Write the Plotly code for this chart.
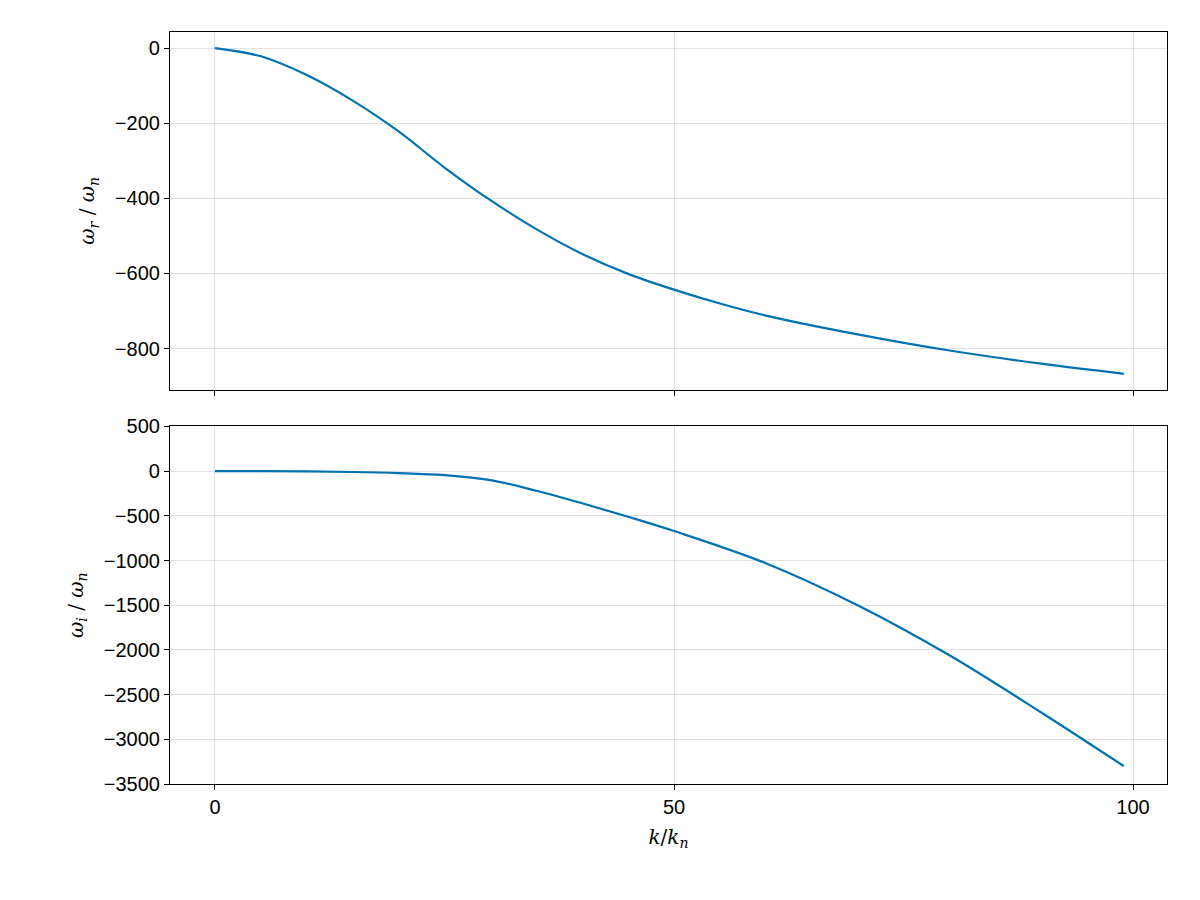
import plotly.graph_objects as go
from plotly.subplots import make_subplots

k = [0, 5, 10, 15, 20, 25, 30, 35, 40, 45, 50, 55, 60, 70, 80, 90, 99]
omega_r = [0, -22, -72, -140, -222, -318, -405, -482, -548, -601, -643, -680, -712, -762, -805, -840, -867]

k_i = [0, 5, 10, 15, 20, 25, 30, 35, 40, 45, 50, 60, 70, 80, 90, 99]
omega_i = [0, -1, -4, -10, -22, -45, -100, -220, -360, -510, -670, -1030, -1500, -2060, -2700, -3300]

blue = "#0072B2"
grid = "rgba(0,0,0,0.12)"

fig = make_subplots(rows=2, cols=1, shared_xaxes=True, vertical_spacing=0.049)

fig.add_trace(go.Scatter(x=k, y=omega_r, mode="lines", line=dict(color=blue, width=2.2, shape="spline"),
                         showlegend=False), row=1, col=1)
fig.add_trace(go.Scatter(x=k_i, y=omega_i, mode="lines", line=dict(color=blue, width=2.2, shape="spline"),
                         showlegend=False), row=2, col=1)

axis_style = dict(showgrid=True, gridcolor=grid, gridwidth=1, zeroline=False,
                  showline=True, linecolor="black", linewidth=1.2, mirror=True,
                  ticks="outside", ticklen=5, tickcolor="black",
                  tickfont=dict(size=20, color="black"))

fig.update_xaxes(range=[-4.9, 103.7], tickvals=[0, 50, 100], **axis_style)
fig.update_xaxes(showticklabels=False, row=1, col=1)
fig.update_xaxes(title=dict(text="<i>k</i>/<i>k<sub>n</sub></i>",
                            font=dict(size=20, family="DejaVu Serif", color="black"), standoff=12),
                 row=2, col=1)
fig.update_yaxes(range=[-909, 42.7], tickvals=[0, -200, -400, -600, -800],
                 ticktext=["0", "−200", "−400", "−600", "−800"],
                 title=dict(text="<i>ω<sub>r</sub></i> / <i>ω<sub>n</sub></i>",
                            font=dict(size=20, family="DejaVu Serif", color="black"), standoff=14),
                 row=1, col=1, **axis_style)
yi = [500, 0, -500, -1000, -1500, -2000, -2500, -3000, -3500]
fig.update_yaxes(range=[-3500, 500], tickvals=yi,
                 ticktext=[str(v).replace("-", "−") for v in yi],
                 title=dict(text="<i>ω<sub>i</sub></i> / <i>ω<sub>n</sub></i>",
                            font=dict(size=20, family="DejaVu Serif", color="black"), standoff=14),
                 row=2, col=1, **axis_style)

fig.update_layout(width=1200, height=900, plot_bgcolor="white", paper_bgcolor="white",
                  margin=dict(l=162, r=41, t=24, b=124),
                  font=dict(family="Liberation Sans, Arial", color="black"))

fig.write_html("out.html")
